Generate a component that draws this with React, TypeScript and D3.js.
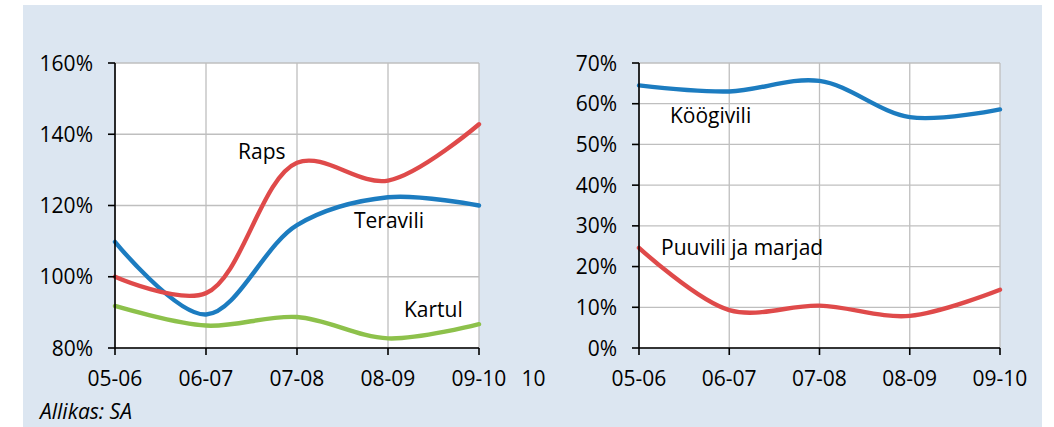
import React from "react";
import * as d3 from "d3";

const categories = ["05-06", "06-07", "07-08", "08-09", "09-10"];
const extraLabel = "10";

const leftTicks = [80, 100, 120, 140, 160];
const raps = [100, 95.4, 132, 127, 142.8];
const teravili = [109.8, 89.4, 114.5, 122.3, 120];
const kartul = [91.8, 86.3, 88.7, 82.7, 86.7];

const rightTicks = [0, 10, 20, 30, 40, 50, 60, 70];
const koogivili = [64.5, 63, 65.6, 56.7, 58.6];
const puuvili = [24.6, 9.3, 10.4, 7.9, 14.3];

const BLUE = "#1C7CC0";
const RED = "#DF4A4A";
const GREEN = "#8DC14B";
const BG = "#DCE6F1";
const GRID = "#BFBFBF";
const FONT = "'Open Sans', sans-serif";
const FS = 21;

type Series = { values: number[]; color: string };
type Lbl = { text: string; x: number; y: number };

function Panel(props: {
  x0: number;
  x1: number;
  domain: [number, number];
  ticks: number[];
  series: Series[];
  labels: Lbl[];
  extra?: string;
}) {
  const { x0, x1, domain, ticks, series, labels, extra } = props;
  const top = 63;
  const bottom = 348;
  const x = d3.scalePoint<string>().domain(categories).range([x0, x1]);
  const y = d3.scaleLinear().domain(domain).range([bottom, top]);
  const line = d3
    .line<number>()
    .x((_, i) => x(categories[i]) as number)
    .y((d) => y(d))
    .curve(d3.curveCatmullRom.alpha(0.5));
  const step = x.step();
  return (
    <g>
      <rect x={x0} y={top} width={x1 - x0} height={bottom - top} fill="#fff" />
      {ticks.map((t) => (
        <line key={"h" + t} x1={x0} x2={x1} y1={y(t)} y2={y(t)} stroke={GRID} strokeWidth={1.3} />
      ))}
      {categories.map((c) => (
        <line key={"v" + c} x1={x(c)} x2={x(c)} y1={top} y2={bottom} stroke={GRID} strokeWidth={1.3} />
      ))}
      {series.map((s, i) => (
        <path key={i} d={line(s.values) || ""} fill="none" stroke={s.color} strokeWidth={4.4} strokeLinecap="round" />
      ))}
      <line x1={x0} x2={x0} y1={top} y2={bottom} stroke="#000" strokeWidth={1.6} />
      <line x1={x0} x2={x1} y1={bottom} y2={bottom} stroke="#000" strokeWidth={1.6} />
      {ticks.map((t) => (
        <g key={"yt" + t}>
          <line x1={x0 - 7} x2={x0} y1={y(t)} y2={y(t)} stroke="#000" strokeWidth={1.6} />
          <text x={x0 - 22} y={y(t)} dy="0.36em" textAnchor="end" fontSize={FS} fontFamily={FONT} fill="#000">
            {t + "%"}
          </text>
        </g>
      ))}
      {categories.map((c) => (
        <g key={"xt" + c}>
          <line x1={x(c)} x2={x(c)} y1={bottom} y2={bottom + 7} stroke="#000" strokeWidth={1.6} />
          <text x={x(c)} y={386} textAnchor="middle" fontSize={FS} fontFamily={FONT} fill="#000">
            {c}
          </text>
        </g>
      ))}
      {extra && (
        <text x={x1 + step * 0.6} y={386} textAnchor="middle" fontSize={FS} fontFamily={FONT} fill="#000">
          {extra}
        </text>
      )}
      {labels.map((l) => (
        <text key={l.text} x={l.x} y={l.y} fontSize={FS} fontFamily={FONT} fill="#000">
          {l.text}
        </text>
      ))}
    </g>
  );
}

export default function App() {
  return (
    <svg
      width={1054}
      height={427}
      style={{ position: "absolute", left: 0, top: 0, display: "block" }}
    >
      <rect x={0} y={0} width={1054} height={427} fill="#fff" />
      <rect x={23} y={5} width={1019} height={422} fill={BG} />
      <Panel
        x0={115}
        x1={479}
        domain={[80, 160]}
        ticks={leftTicks}
        series={[
          { values: kartul, color: GREEN },
          { values: teravili, color: BLUE },
          { values: raps, color: RED },
        ]}
        labels={[
          { text: "Raps", x: 238, y: 159 },
          { text: "Teravili", x: 354, y: 228 },
          { text: "Kartul", x: 404, y: 317 },
        ]}
        extra={extraLabel}
      />
      <Panel
        x0={639}
        x1={1000}
        domain={[0, 70]}
        ticks={rightTicks}
        series={[
          { values: koogivili, color: BLUE },
          { values: puuvili, color: RED },
        ]}
        labels={[
          { text: "Köögivili", x: 670, y: 123 },
          { text: "Puuvili ja marjad", x: 661, y: 255 },
        ]}
      />
      <text x={40} y={419} fontSize={FS} fontStyle="italic" fontFamily={FONT} fill="#000">
        Allikas: SA
      </text>
    </svg>
  );
}
